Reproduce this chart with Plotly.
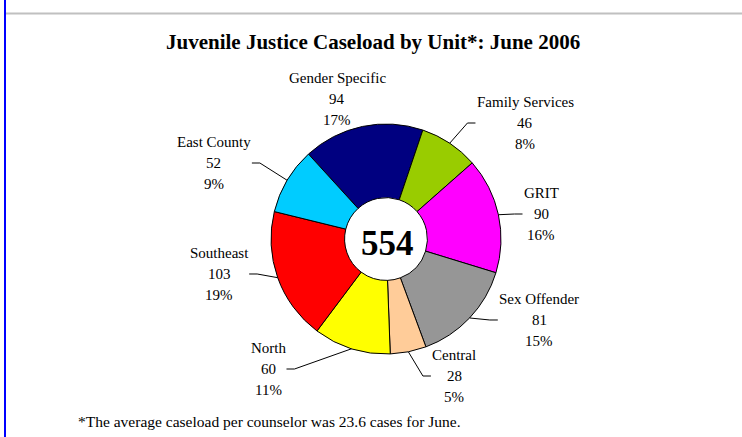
import math
import plotly.graph_objects as go

# ---------------- data ----------------
units = ["Gender Specific", "Family Services", "GRIT", "Sex Offender",
         "Central", "North", "Southeast", "East County"]
caseload = [94, 46, 90, 81, 28, 60, 103, 52]
colors = ["#000080", "#99CC00", "#FF00FF", "#969696",
          "#FFCC99", "#FFFF00", "#FF0000", "#00CCFF"]
title_text = "Juvenile Justice Caseload by Unit*: June 2006"
footnote_text = "*The average caseload per counselor was 23.6 cases for June."

# ---------------- layout constants (pixels) ----------------
W, H = 742, 437
CX, CY, R = 386, 239, 115
HOLE = 0.36
ROTATION = -42.4
FONT = "Liberation Serif, Times New Roman, serif"
LABEL_SIZE = 15
LINE_GAP = 21
# label block centres (x, middle-line y) and whether a leader line is drawn
label_pos = [(337, 99), (525, 123), (541, 214), (539, 320),
             (454, 376), (268, 369), (219, 274), (214, 163)]
leader = [False, True, True, True, True, True, True, True]

# Times widths (em) for estimating label block width
TW = {" ": .25, "%": .833, "C": .667, "E": .611, "F": .556, "G": .722, "I": .333,
      "N": .722, "O": .722, "R": .667, "S": .556, "T": .611, "a": .444, "c": .444,
      "d": .5, "e": .444, "f": .333, "h": .5, "i": .278, "l": .278, "m": .778,
      "n": .5, "o": .5, "p": .5, "r": .333, "s": .389, "t": .278, "u": .5,
      "v": .5, "y": .5, "x": .5}


def text_w(s, size):
    return sum(TW.get(ch, .5) for ch in s) * size


def px(x):
    return x / W


def py(y):
    return 1 - y / H


total = sum(caseload)

fig = go.Figure(go.Pie(
    labels=units, values=caseload, sort=False, direction="clockwise",
    rotation=ROTATION, hole=HOLE, textinfo="none", hoverinfo="label+value+percent",
    marker=dict(colors=colors, line=dict(color="#000000", width=1)),
    domain=dict(x=[px(CX - R), px(CX + R)], y=[py(CY + R), py(CY - R)]),
    showlegend=False,
))

annotations = []
shapes = []

# title
annotations.append(dict(text="<b>" + title_text + "</b>", x=px(373), y=py(42),
                        xref="paper", yref="paper", showarrow=False,
                        xanchor="center", yanchor="middle",
                        font=dict(family=FONT, size=21, color="#000000")))
# centre total
annotations.append(dict(text="<b>%d</b>" % total, x=px(CX + 1), y=py(CY + 4),
                        xref="paper", yref="paper", showarrow=False,
                        xanchor="center", yanchor="middle",
                        font=dict(family=FONT, size=35, color="#000000")))
# footnote
annotations.append(dict(text=footnote_text, x=px(76), y=py(421),
                        xref="paper", yref="paper", showarrow=False,
                        xanchor="left", yanchor="middle",
                        font=dict(family=FONT, size=15.5, color="#000000")))

cum = 0
for name, v, (lx, ly), lead in zip(units, caseload, label_pos, leader):
    mid = math.radians(ROTATION + (cum + v / 2) / total * 360)
    cum += v
    pct = "%d%%" % round(v / total * 100)
    lines = [name, str(v), pct]
    for i, t in enumerate(lines):
        annotations.append(dict(text=t, x=px(lx), y=py(ly + (i - 1) * LINE_GAP),
                                xref="paper", yref="paper", showarrow=False,
                                xanchor="center", yanchor="middle",
                                font=dict(family=FONT, size=LABEL_SIZE, color="#000000")))
    if lead:
        ex = CX + R * math.sin(mid)
        ey = CY - R * math.cos(mid)
        half = max(text_w(t, LABEL_SIZE) for t in lines) / 2
        if lx > CX:
            end = lx - half - 1
            elbow = end - 8
        else:
            end = lx + half + 1
            elbow = end + 8
        path = "M %f %f L %f %f L %f %f" % (px(ex), py(ey), px(elbow), py(ly), px(end), py(ly))
        shapes.append(dict(type="path", path=path, xref="paper", yref="paper",
                           line=dict(color="#000000", width=1)))

# page frame lines
shapes.append(dict(type="line", x0=px(5), x1=px(5), y0=0, y1=1, xref="paper", yref="paper",
                   line=dict(color="#0000FF", width=2)))
shapes.append(dict(type="line", x0=px(6), x1=1, y0=py(13.5), y1=py(13.5), xref="paper",
                   yref="paper", line=dict(color="#C0C0C0", width=2)))

fig.update_layout(
    width=W, height=H, margin=dict(l=0, r=0, t=0, b=0),
    paper_bgcolor="#FFFFFF", plot_bgcolor="#FFFFFF",
    annotations=annotations, shapes=shapes,
)

fig.write_html("out.html", config={"displayModeBar": False},
               post_script="document.body.style.margin='0';document.body.style.overflow='hidden';")
